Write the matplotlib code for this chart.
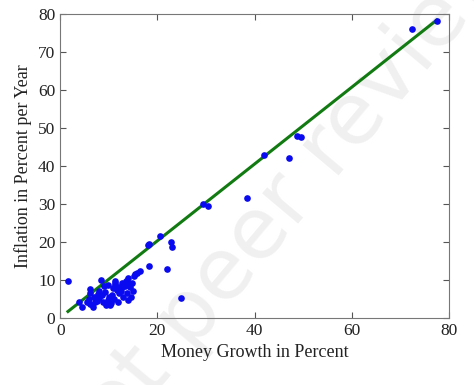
import matplotlib
matplotlib.use("Agg")
import matplotlib.pyplot as plt
import numpy as np

# money growth (x) and inflation (y), percent per year
money_growth = [
    1.6, 3.9, 4.5, 6.2, 6.2, 8.4, 11.3, 13.3, 14.7, 15.1, 15.4, 15.9, 16.4,
    18.3, 21.9, 24.8, 18.1, 18.3, 20.5, 22.8, 23.0, 29.4, 30.5, 38.5, 42.0,
    47.0, 48.8, 49.5, 72.5, 77.5,
    5.5, 6.2, 6.8, 7.2, 7.9, 8.6, 9.2, 8.9, 9.9, 10.3, 10.6, 10.9, 11.3,
    12.0, 12.7, 9.9, 14.0, 14.0, 14.4, 13.7, 14.0, 12.7, 11.3, 11.6,
    6.0, 7.0, 7.5, 8.0, 9.5, 10.0, 10.5, 11.0, 12.0, 12.5, 13.0, 14.5,
    15.0, 9.0, 7.8, 10.2, 11.8, 13.5,
]
inflation = [
    9.8, 4.1, 3.0, 7.6, 6.5, 10.0, 9.8, 8.4, 9.3, 11.0, 11.5, 11.9, 12.4,
    13.8, 12.8, 5.2, 19.2, 19.5, 21.6, 20.1, 18.6, 30.0, 29.5, 31.5, 43.0,
    42.0, 48.0, 47.5, 76.0, 78.0,
    4.3, 3.6, 3.0, 4.3, 5.2, 6.1, 6.9, 4.3, 4.7, 3.4, 6.1, 7.8, 8.7,
    8.2, 9.1, 8.7, 10.4, 9.1, 8.2, 6.5, 4.7, 8.2, 9.1, 7.4,
    5.0, 5.5, 4.5, 7.0, 3.5, 5.5, 4.0, 5.0, 6.5, 7.2, 5.5, 5.5,
    7.0, 8.5, 6.3, 3.8, 4.2, 9.8,
]

# fitted line: inflation = intercept + slope * money growth
fit_intercept = 0.1
fit_slope = 1.01

plt.rcParams['font.family'] = ['Liberation Serif', 'DejaVu Serif']

fig = plt.figure(figsize=(4.74, 3.85), dpi=100)
ax = fig.add_axes([0.127, 0.174, 0.82, 0.79])

# faint watermark across the plot
ax.text(0.66, 0.5, "not peer reviewed", transform=ax.transAxes,
        fontsize=62, color='#f0f0f0', rotation=50, ha='center', va='center',
        family='DejaVu Sans', zorder=0, clip_on=False)

ax.plot(money_growth, inflation, 'o', color='#0a0af0', markersize=4.8,
        markeredgewidth=0, zorder=3)

xs = np.array([min(money_growth), max(money_growth)])
ax.plot(xs, fit_intercept + fit_slope * xs, color='#117a11', linewidth=2.2,
        zorder=2)

ax.set_xlim(0, 80)
ax.set_ylim(0, 80)
ax.set_xticks([0, 20, 40, 60, 80])
ax.set_yticks(range(0, 81, 10))
ax.tick_params(direction='in', top=True, right=True, labelsize=12.5,
               color='#555555', labelcolor='#222222', length=4)
for s in ax.spines.values():
    s.set_color('#777777')
    s.set_linewidth(0.8)

ax.set_xlabel("Money Growth in Percent", fontsize=13, color='#222222')
ax.set_ylabel("Inflation in Percent per Year", fontsize=13, color='#222222')

fig.savefig("out.png", dpi=100)
